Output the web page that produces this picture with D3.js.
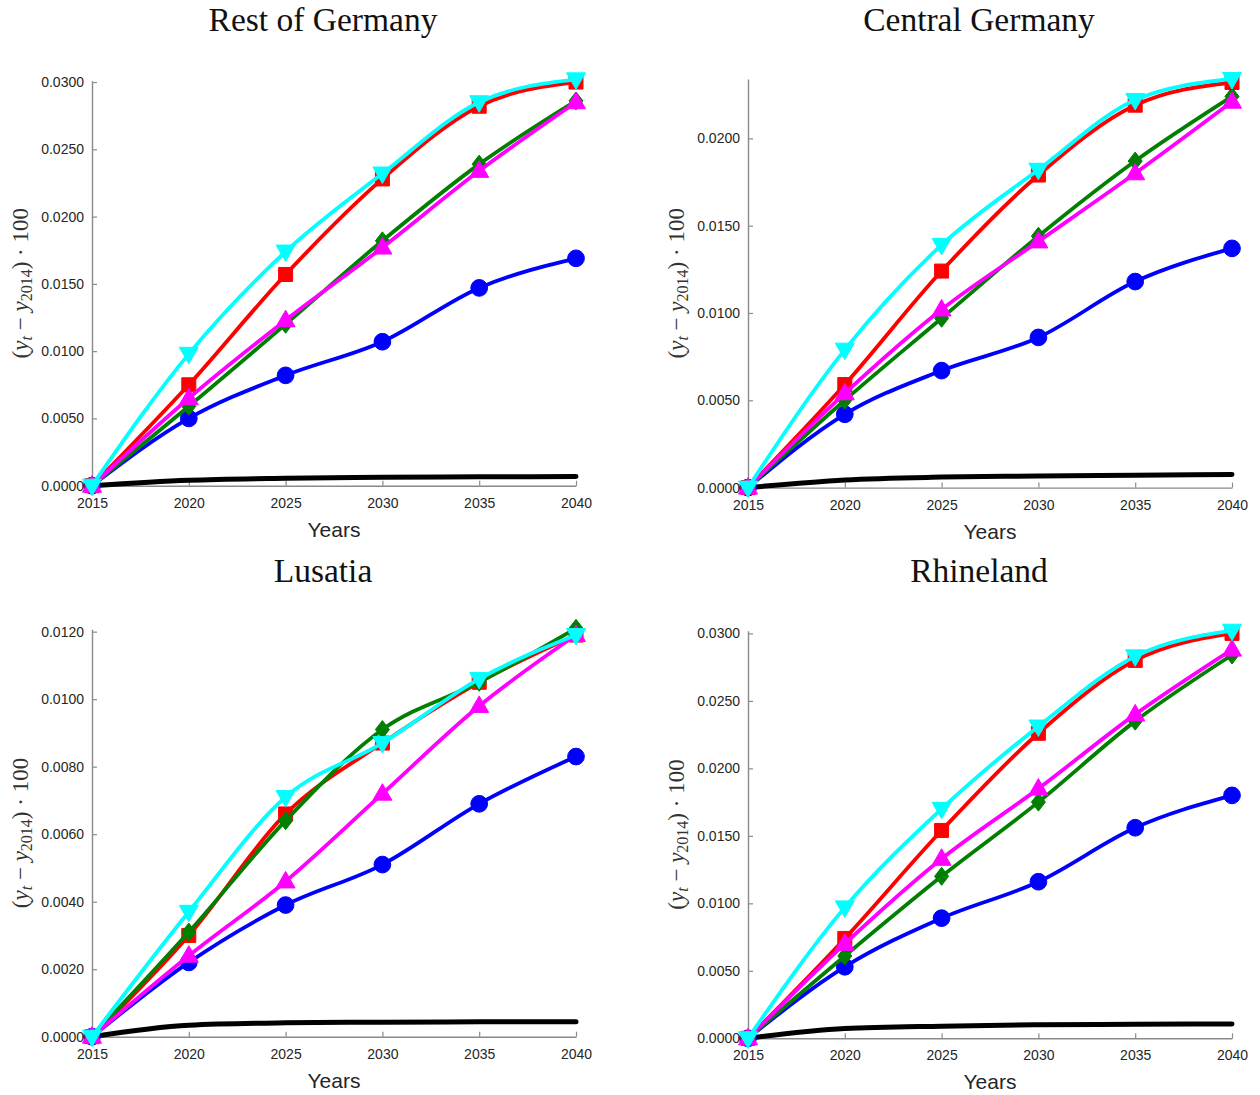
<!DOCTYPE html>
<html>
<head>
<meta charset="utf-8">
<script src="https://cdn.jsdelivr.net/npm/d3@7"></script>
<style>
  html, body { margin: 0; padding: 0; background: #ffffff; }
  svg { display: block; }
</style>
</head>
<body>
<svg id="chart" width="1260" height="1095"></svg>
<script>
// Output growth relative to 2014, four regions, six scenarios each.
const years = [2015, 2020, 2025, 2030, 2035, 2040];
const regionNames = ["Rest of Germany", "Central Germany", "Lusatia", "Rhineland"];

// One row per region, in the order of regionNames.
const seriesBlack = [
  [0, 0.00040, 0.00055, 0.00062, 0.00066, 0.00068],
  [0, 0.00044, 0.00060, 0.00066, 0.00071, 0.00075],
  [0, 0.00034, 0.00041, 0.00043, 0.00044, 0.00044],
  [0, 0.00072, 0.00090, 0.00100, 0.00104, 0.00106]
];
const seriesBlue = [
  [0, 0.0050, 0.0082, 0.0107, 0.0147, 0.0169],
  [0, 0.0042, 0.0067, 0.0086, 0.0118, 0.0137],
  [0, 0.0022, 0.0039, 0.0051, 0.0069, 0.0083],
  [0, 0.0053, 0.0089, 0.0116, 0.0156, 0.0180]
];
const seriesRed = [
  [0, 0.0075, 0.0157, 0.0228, 0.0282, 0.0300],
  [0, 0.0059, 0.0124, 0.0179, 0.0219, 0.0232],
  [0, 0.0030, 0.0066, 0.0087, 0.0105, 0.0119],
  [0, 0.0074, 0.0154, 0.0226, 0.0280, 0.0300]
];
const seriesGreen = [
  [0, 0.0059, 0.0120, 0.0182, 0.0239, 0.0286],
  [0, 0.0050, 0.0097, 0.0144, 0.0187, 0.0224],
  [0, 0.0031, 0.0064, 0.0091, 0.0105, 0.0121],
  [0, 0.0061, 0.0120, 0.0175, 0.0235, 0.0284]
];
const seriesMagenta = [
  [0, 0.0065, 0.0123, 0.0177, 0.0234, 0.0285],
  [0, 0.0054, 0.0102, 0.0141, 0.0180, 0.0221],
  [0, 0.0024, 0.0046, 0.0072, 0.0098, 0.0119],
  [0, 0.0070, 0.0133, 0.0185, 0.0240, 0.0288]
];
const seriesCyan = [
  [0, 0.0098, 0.0174, 0.0232, 0.0285, 0.0302],
  [0, 0.0079, 0.0139, 0.0182, 0.0222, 0.0234],
  [0, 0.0037, 0.0071, 0.0087, 0.0106, 0.0119],
  [0, 0.0097, 0.0170, 0.0231, 0.0283, 0.0302]
];

// Upper y-limit and y tick values of each panel.
const yLimits = [0.0301, 0.0234, 0.01207, 0.0302];
const yTicks = [
  [0, 0.005, 0.010, 0.015, 0.020, 0.025, 0.030],
  [0, 0.005, 0.010, 0.015, 0.020],
  [0, 0.002, 0.004, 0.006, 0.008, 0.010, 0.012],
  [0, 0.005, 0.010, 0.015, 0.020, 0.025, 0.030]
];

// Drawing order and styles (black baseline first, cyan on top).
const seriesSpec = [
  { data: seriesBlack,   color: "#000000", width: 5,   marker: null },
  { data: seriesBlue,    color: "#0000ff", width: 3.8, marker: "circle" },
  { data: seriesRed,     color: "#ff0000", width: 3.8, marker: "square" },
  { data: seriesGreen,   color: "#007f00", width: 3.8, marker: "diamond" },
  { data: seriesMagenta, color: "#ff00ff", width: 3.8, marker: "up" },
  { data: seriesCyan,    color: "#00ffff", width: 3.8, marker: "down" }
];

// Plot rectangles (pixel extents of the axes).
const panels = [
  { left: 92,  right: 576,  top: 80.7,  bottom: 485.7 },
  { left: 748, right: 1232, top: 79,    bottom: 487.6 },
  { left: 92,  right: 576,  top: 629.3, bottom: 1036.7 },
  { left: 748, right: 1232, top: 630.7, bottom: 1038.3 }
];
const titleY = [31, 31, 582, 582];

const svg = d3.select("#chart");
const axisColor = "#8a8a8a";
const textColor = "#262626";
const sansFont = "'Liberation Sans', Arial, sans-serif";
const serifFont = "'Liberation Serif', 'Times New Roman', serif";

function markerPath(kind) {
  switch (kind) {
    case "circle":  return d3.symbol(d3.symbolCircle, 220)();
    case "square":  return "M-7,-7H7V7H-7Z";
    case "diamond": return "M0,-9L7,0L0,9L-7,0Z";
    case "up":      return "M0,-10L9.5,6.5L-9.5,6.5Z";
    case "down":    return "M0,10L9.5,-6.5L-9.5,-6.5Z";
  }
  return null;
}

panels.forEach((p, i) => {
  const x = d3.scaleLinear().domain([2015, 2040]).range([p.left, p.right]);
  const y = d3.scaleLinear().domain([0, yLimits[i]]).range([p.bottom, p.top]);
  const g = svg.append("g");

  // Axes: ticks pointing inward, no box.
  const xAxis = d3.axisBottom(x).tickValues(years).tickFormat(d3.format("d"))
    .tickSizeInner(-5).tickSizeOuter(0).tickPadding(12);
  const yAxis = d3.axisLeft(y).tickValues(yTicks[i]).tickFormat(d3.format(".4f"))
    .tickSizeInner(-5).tickSizeOuter(0).tickPadding(8);

  const gx = g.append("g").attr("transform", `translate(0,${p.bottom})`).call(xAxis);
  const gy = g.append("g").attr("transform", `translate(${p.left},0)`).call(yAxis);
  [gx, gy].forEach(a => {
    a.select(".domain").attr("stroke", axisColor).attr("stroke-width", 1.4);
    a.selectAll(".tick line").attr("stroke", axisColor).attr("stroke-width", 1.2);
    a.selectAll(".tick text").attr("fill", textColor)
      .style("font-family", sansFont).style("font-size", "14px");
  });

  // Title
  g.append("text")
    .attr("x", (p.left + p.right) / 2 - 11)
    .attr("y", titleY[i])
    .attr("text-anchor", "middle")
    .style("font-family", serifFont)
    .style("font-size", "33.5px")
    .attr("fill", "#111")
    .text(regionNames[i]);

  // X label
  g.append("text")
    .attr("x", (p.left + p.right) / 2)
    .attr("y", p.bottom + 51)
    .attr("text-anchor", "middle")
    .style("font-family", sansFont)
    .style("font-size", "21px")
    .attr("fill", textColor)
    .text("Years");

  // Y label: (y_t − y_2014) · 100
  const ylab = g.append("text")
    .attr("transform", `translate(${p.left - 64},${(p.top + p.bottom) / 2}) rotate(-90)`)
    .attr("text-anchor", "middle")
    .style("font-family", serifFont)
    .style("font-size", "23px")
    .attr("fill", "#333");
  ylab.append("tspan").text("(");
  ylab.append("tspan").style("font-style", "italic").text("y");
  ylab.append("tspan").style("font-style", "italic").style("font-size", "16px").attr("dy", 4).text("t");
  ylab.append("tspan").attr("dy", -4).text(" \u2212 ");
  ylab.append("tspan").style("font-style", "italic").text("y");
  ylab.append("tspan").style("font-size", "16px").attr("dy", 4).text("2014");
  ylab.append("tspan").attr("dy", -4).text(") \u00b7 100");

  // Series lines and markers
  const line = d3.line()
    .x((d, k) => x(years[k]))
    .y(d => y(d))
    .curve(d3.curveMonotoneX);

  seriesSpec.forEach(s => {
    const vals = s.data[i];
    g.append("path")
      .attr("d", line(vals))
      .attr("fill", "none")
      .attr("stroke", s.color)
      .attr("stroke-width", s.width)
      .attr("stroke-linejoin", "round")
      .attr("stroke-linecap", "round");
    if (s.marker) {
      g.append("g").selectAll("path")
        .data(vals)
        .join("path")
        .attr("transform", (d, k) => `translate(${x(years[k])},${y(d)})`)
        .attr("d", markerPath(s.marker))
        .attr("fill", s.color)
        .attr("stroke", s.color)
        .attr("stroke-width", 1);
    }
  });
});
</script>
</body>
</html>
